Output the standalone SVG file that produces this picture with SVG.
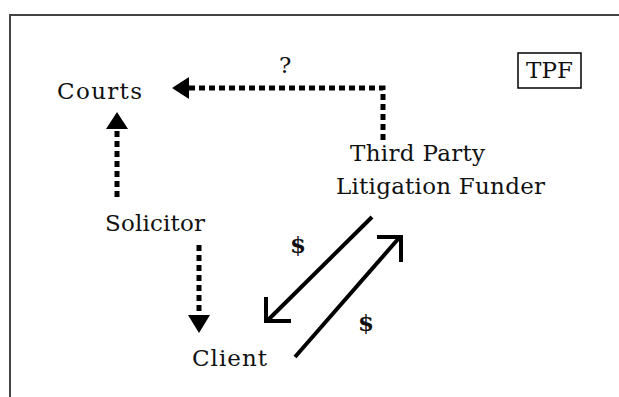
<svg xmlns="http://www.w3.org/2000/svg" width="619" height="397" viewBox="0 0 619 397">
<style>
text{font-family:"DejaVu Serif","Liberation Serif",serif;font-size:23px;fill:#111}
.dot{fill:none;stroke:#000;stroke-width:5;stroke-dasharray:6 4}
.sol{fill:none;stroke:#000;stroke-width:4}
.head{fill:#000}
</style>
<rect x="0" y="0" width="619" height="397" fill="#fff"/>
<rect x="10" y="15" width="700" height="500" fill="none" stroke="#444" stroke-width="2"/>
<g id="tpf"><rect x="518" y="53" width="63" height="35" fill="none" stroke="#000" stroke-width="1.5"/><text x="549.5" y="78" text-anchor="middle" font-size="19">TPF</text></g>
<g id="courts"><text x="57" y="99" textLength="85">Courts</text></g>
<g id="funder"><text x="350" y="161" textLength="135">Third Party</text><text x="336" y="194" textLength="209">Litigation Funder</text></g>
<g id="solicitor"><text x="105" y="231" textLength="100">Solicitor</text></g>
<g id="client"><text x="192" y="366" textLength="75">Client</text></g>
<g id="connectors">
<polyline class="dot" points="383,140 383,88 188,88"/>
<polygon class="head" points="172,88 189,77 189,99"/>
<text x="279" y="73" font-size="20">?</text>
<line class="dot" x1="117" y1="197" x2="117" y2="127"/>
<polygon class="head" points="117,112 106,129 128,129"/>
<line class="dot" x1="199" y1="245" x2="199" y2="317"/>
<polygon class="head" points="199,333 188,315 210,315"/>
<line class="sol" x1="372" y1="217" x2="268" y2="320"/>
<polyline class="sol" points="266,297 266,321 291,321"/>
<line class="sol" x1="295" y1="357" x2="399" y2="238"/>
<polyline class="sol" points="377,237 401,237 401,262"/>
<text x="290" y="253" font-weight="bold" font-size="20">$</text>
<text x="358" y="331" font-weight="bold" font-size="20">$</text>
</g>
</svg>
